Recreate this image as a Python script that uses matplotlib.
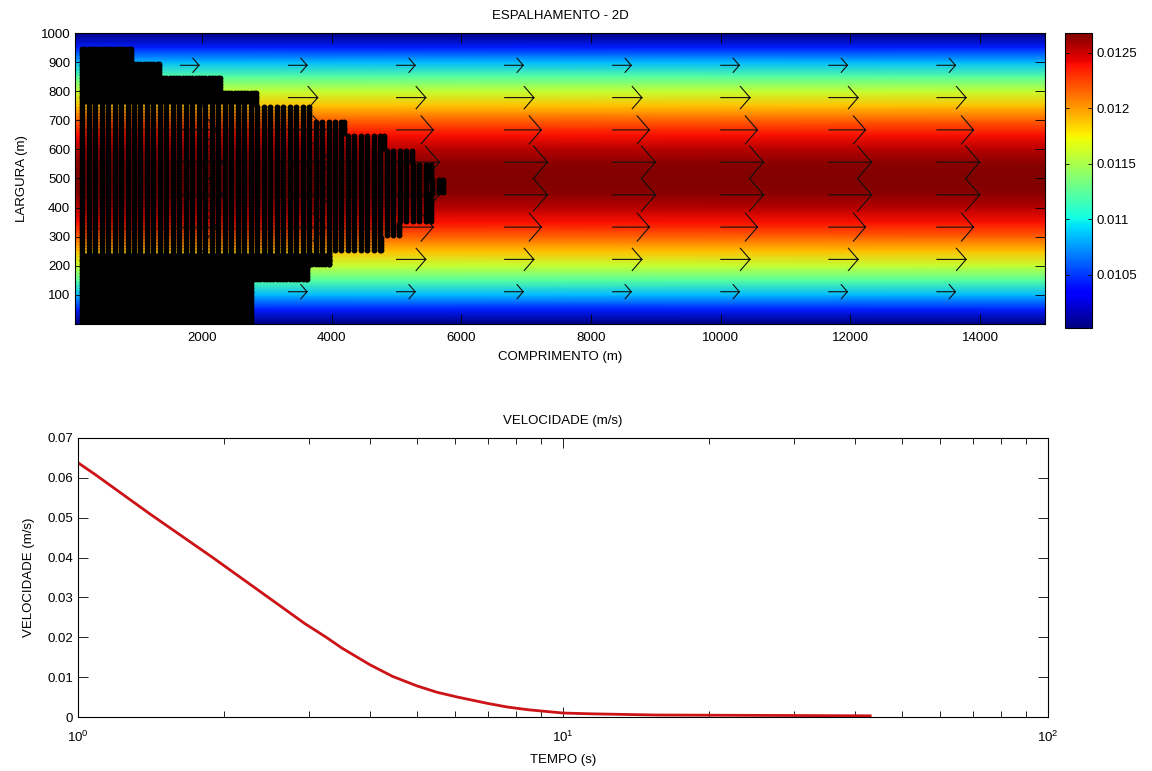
import numpy as np
import matplotlib
matplotlib.use("Agg")
import matplotlib.pyplot as plt
from matplotlib.ticker import NullFormatter

plt.rcParams['font.family'] = ['Liberation Sans', 'DejaVu Sans']
plt.rcParams['font.size'] = 9.5

#############################################################################
#   DADOS

# perfil de velocidade ao longo da largura (campo colorido)
perfil_y = [0, 50, 100, 150, 200, 250, 300, 350, 400, 450, 500,
            550, 600, 650, 700, 750, 800, 850, 900, 950, 1000]
perfil_u = [0.01002, 0.01043, 0.01084, 0.01123, 0.01158, 0.01190, 0.01217,
            0.01239, 0.01255, 0.01265, 0.01268, 0.01265, 0.01255, 0.01239,
            0.01217, 0.01190, 0.01158, 0.01123, 0.01084, 0.01043, 0.01002]

# setas (quiver)
seta_x = [1667, 3333, 5000, 6667, 8333, 10000, 11667, 13333]
seta_y = [111, 222, 333, 444, 556, 667, 778, 889]
seta_comp = [285, 450, 565, 660, 660, 565, 450, 285]

# mancha de particulas: faixas em y e alcance em x de cada faixa
faixa_ini = [0, 150, 200, 250, 300, 350, 450, 500, 550, 600, 650, 700, 750, 800, 850, 900]
faixa_fim = [150, 200, 250, 300, 350, 450, 500, 550, 600, 650, 700, 750, 800, 850, 900, 955]
faixa_xmax = [2790, 3665, 4000, 4800, 5080, 5570, 5750, 5570, 5285, 4850,
              4230, 3690, 2870, 2320, 1380, 940]

# velocidade ao longo do tempo
tempo = [1.0, 1.089, 1.405, 1.896, 2.535, 2.93, 3.25, 3.5, 4.0, 4.45, 5.0,
         5.5, 6.06, 7.0, 7.68, 8.5, 10.0, 11.4, 15.5, 43.0]
velocidade = [0.0638, 0.0607, 0.051, 0.040, 0.029, 0.0235, 0.020, 0.0173,
              0.0131, 0.0102, 0.0078, 0.0062, 0.0050, 0.0034, 0.0025, 0.0018,
              0.0010, 0.0008, 0.0005, 0.0003]

x_lim = (40, 15000)
c_lim = (0.01002, 0.01268)

#############################################################################
#   FIGURA

fig = plt.figure(figsize=(11.52, 7.71), dpi=100)
ax1 = fig.add_axes([75/1152, 447/771, 970/1152, 291/771])
cax = fig.add_axes([1065/1152, 443/771, 27/1152, 295/771])
ax2 = fig.add_axes([78/1152, 54/771, 970/1152, 279/771])

# campo de velocidade
X, Y = np.meshgrid(x_lim, perfil_y)
C = np.column_stack([perfil_u, perfil_u])
mesh = ax1.pcolormesh(X, Y, C, shading='gouraud', cmap='jet',
                      vmin=c_lim[0], vmax=c_lim[1], zorder=1)

# setas no estilo do quiver do matlab
xs, ys = [], []
for x0 in seta_x:
    for y0, L in zip(seta_y, seta_comp):
        a = 0.33 * L
        h = 0.085 * L
        xs += [x0, x0 + L, np.nan, x0 + L - a, x0 + L, x0 + L - a, np.nan]
        ys += [y0, y0, np.nan, y0 + h, y0, y0 - h, np.nan]
ax1.plot(xs, ys, color='#101010', lw=0.8, zorder=3)

# particulas
px, py = [], []
for yr in np.arange(5, 955, 10):
    for lo, hi, xm in zip(faixa_ini, faixa_fim, faixa_xmax):
        if lo <= yr < hi:
            cols = list(np.arange(150, xm - 42, 100)) + [xm - 42]
            if yr < 240 or yr > 760:
                cols += list(np.arange(200, xm - 42, 100))
            px += cols
            py += [yr] * len(cols)
ax1.scatter(px, py, s=18, c='k', marker='o', linewidths=0, zorder=4)

ax1.set_xlim(x_lim)
ax1.set_ylim(0, 1000)
ax1.set_xticks(range(2000, 14001, 2000))
ax1.set_yticks(range(100, 1001, 100))
ax1.tick_params(direction='in', length=7, width=0.6, top=True, right=True)
ax1.tick_params(axis='x', pad=6)
ax1.set_title('ESPALHAMENTO - 2D', pad=10, fontsize=9.5)
ax1.set_xlabel('COMPRIMENTO (m)', labelpad=5)
ax1.set_ylabel('LARGURA (m)', labelpad=9)

cb = fig.colorbar(mesh, cax=cax)
cb.set_ticks([0.0105, 0.011, 0.0115, 0.012, 0.0125])
cb.set_ticklabels(['0.0105', '0.011', '0.0115', '0.012', '0.0125'])
cb.ax.tick_params(direction='in', length=3, width=0.6, left=True, right=True)
cb.outline.set_linewidth(0.8)

# curva de velocidade
ax2.semilogx(tempo, velocidade, color='#cc1418', lw=2.0)
ax2.set_xlim(1, 100)
ax2.set_ylim(0, 0.07)
ax2.set_yticks([0, 0.01, 0.02, 0.03, 0.04, 0.05, 0.06, 0.07])
ax2.set_yticklabels(['0', '0.01', '0.02', '0.03', '0.04', '0.05', '0.06', '0.07'])
ax2.xaxis.set_minor_formatter(NullFormatter())
ax2.tick_params(which='major', direction='in', length=7, width=0.6, top=True, right=True)
ax2.tick_params(which='minor', direction='in', length=4, width=0.6, top=True, right=True)
ax2.tick_params(axis='x', which='major', pad=9)
ax2.set_title('VELOCIDADE (m/s)', pad=10, fontsize=9.5)
ax2.set_xlabel('TEMPO (s)', labelpad=7)
ax2.set_ylabel('VELOCIDADE (m/s)', labelpad=9)

for ax in (ax1, ax2):
    for s in ax.spines.values():
        s.set_linewidth(0.8)

fig.savefig('out.png', dpi=100)
